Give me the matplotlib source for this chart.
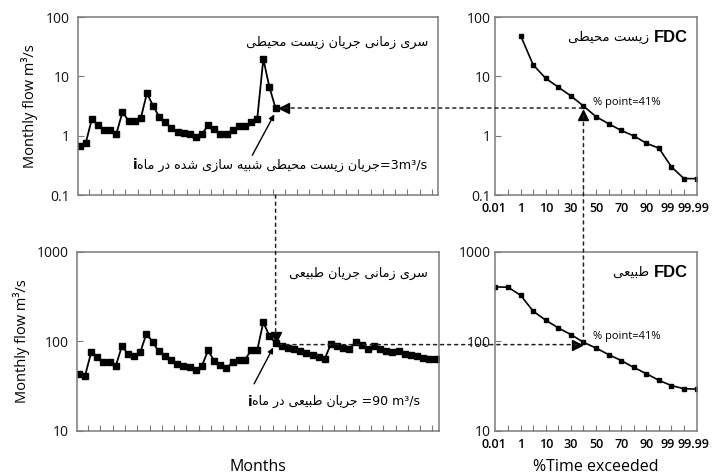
import numpy as np
import matplotlib.pyplot as plt
from matplotlib.patches import ConnectionPatch
from matplotlib.ticker import FixedLocator, NullLocator

# monthly flow series, m3/s (one value per month)
env_flow = [0.68, 0.75, 1.9, 1.53, 1.26, 1.23, 1.07, 2.5, 1.8, 1.75, 1.99, 5.2,
            3.2, 2.1, 1.68, 1.35, 1.18, 1.1, 1.08, 0.97, 1.08, 1.5, 1.3, 1.07,
            1.07, 1.26, 1.44, 1.44, 1.68, 1.9, 19.7, 6.6, 2.93]
nat_flow = [43.5, 41, 75, 66, 58, 58.6, 53, 88, 72, 68, 76, 122, 98, 77, 69,
            62, 56, 53, 52, 48, 52.5, 79, 61, 55, 50, 58.6, 62, 62, 79, 79,
            163, 114, 96, 88, 84, 81, 77, 74, 71, 67, 64,
            94, 89, 84, 82, 99, 92, 82, 88, 82, 77, 76, 77, 72, 70, 68, 65, 63, 63]

# flow duration curves, plotted on an evenly spaced exceedance scale
fdc_env_pos = list(range(0, 15))
fdc_env = [49, 15.7, 9.3, 6.6, 4.7, 3.18, 2.1, 1.6, 1.23, 1.0, 0.75, 0.62, 0.3, 0.19, 0.19]
fdc_nat_pos = list(range(-2, 15))
fdc_nat = [405, 402, 327, 217, 172, 141, 119, 97.5, 84, 71, 61, 51, 43.5, 36.6, 32, 29.5, 29.2]

exc_labels = ['0.01', '1', '10', '30', '50', '70', '90', '99', '99.99']
exc_label_pos = [-2.15, 0, 2, 4, 6, 8, 10, 11.7, 15.0]
exc_label_ha = ['center'] * 8 + ['right']

month_i = 32          # month i
env_i, nat_i = 3, 90  # flows at month i
pct_i = 5             # position of 41% on the exceedance scale

ts_env_title = "سری زمانی جریان زیست محیطی"
ts_env_note = "جریان زیست محیطی شبیه سازی شده در ماه"
fdc_env_title = "زیست محیطی"
ts_nat_title = "سری زمانی جریان طبیعی"
ts_nat_note = "جریان طبیعی در ماه"
fdc_nat_title = "طبیعی"

# matplotlib does no arabic shaping, so pick presentation forms by hand
# isolated, final, initial, medial
AR_FORMS = {
    'ا': ('\ufe8d', '\ufe8e', None, None),
    'ب': ('\ufe8f', '\ufe90', '\ufe91', '\ufe92'),
    'ت': ('\ufe95', '\ufe96', '\ufe97', '\ufe98'),
    'ج': ('\ufe9d', '\ufe9e', '\ufe9f', '\ufea0'),
    'ح': ('\ufea1', '\ufea2', '\ufea3', '\ufea4'),
    'د': ('\ufea9', '\ufeaa', None, None),
    'ر': ('\ufead', '\ufeae', None, None),
    'ز': ('\ufeaf', '\ufeb0', None, None),
    'س': ('\ufeb1', '\ufeb2', '\ufeb3', '\ufeb4'),
    'ش': ('\ufeb5', '\ufeb6', '\ufeb7', '\ufeb8'),
    'ط': ('\ufec1', '\ufec2', '\ufec3', '\ufec4'),
    'ع': ('\ufec9', '\ufeca', '\ufecb', '\ufecc'),
    'م': ('\ufee1', '\ufee2', '\ufee3', '\ufee4'),
    'ن': ('\ufee5', '\ufee6', '\ufee7', '\ufee8'),
    'ه': ('\ufee9', '\ufeea', '\ufeeb', '\ufeec'),
    'ی': ('\ufeef', '\ufef0', '\ufef3', '\ufef4'),
}


def fa(s):
    out = []
    for i, c in enumerate(s):
        if c not in AR_FORMS:
            out.append(c)
            continue
        prev = s[i - 1] if i > 0 else ''
        nxt = s[i + 1] if i + 1 < len(s) else ''
        j_prev = prev in AR_FORMS and AR_FORMS[prev][2] is not None
        j_next = nxt in AR_FORMS and AR_FORMS[c][2] is not None
        iso, fin, ini, med = AR_FORMS[c]
        if j_prev and j_next:
            out.append(med)
        elif j_prev:
            out.append(fin)
        elif j_next:
            out.append(ini)
        else:
            out.append(iso)
    return ''.join(reversed(out))


plt.rcParams['font.family'] = ['Open Sans', 'DejaVu Sans']
FA = ['DejaVu Sans']
spine_c = '#7a7a7a'
dot = (0, (2, 2.6))

fig = plt.figure(figsize=(7.13, 4.76), dpi=100)
ax1 = fig.add_axes([0.109, 0.590, 0.506, 0.374])
ax2 = fig.add_axes([0.694, 0.590, 0.283, 0.374])
ax3 = fig.add_axes([0.108, 0.095, 0.508, 0.376])
ax4 = fig.add_axes([0.694, 0.095, 0.283, 0.376])

for ax in (ax1, ax2, ax3, ax4):
    ax.set_yscale('log')
    ax.yaxis.set_minor_locator(NullLocator())
    for sp in ax.spines.values():
        sp.set_color(spine_c)
        sp.set_linewidth(1.1)
    ax.tick_params(which='both', direction='in', color=spine_c, length=4,
                   labelsize=10, labelcolor='#111')

# time series panels
months = np.arange(len(nat_flow))
for ax, y in ((ax1, env_flow), (ax3, nat_flow)):
    ax.plot(months[:len(y)], y, '-s', color='black', lw=1.3, ms=3.8)
    ax.set_xlim(-0.3, 58.6)
    ax.set_xticks(np.arange(1.5, 58, 2))
    ax.tick_params(axis='x', labelbottom=False)
    ax.tick_params(axis='y', pad=6)
    ax.set_ylabel('Monthly flow m³/s', fontsize=10.5, labelpad=5)

ax1.set_ylim(0.1, 100)
ax1.yaxis.set_major_locator(FixedLocator([0.1, 1, 10, 100]))
ax1.set_yticklabels(['0.1', '1', '10', '100'])
ax3.set_ylim(10, 1000)
ax3.yaxis.set_major_locator(FixedLocator([10, 100, 1000]))
ax3.set_yticklabels(['10', '100', '1000'])

# flow duration curves
ax2.plot(fdc_env_pos, fdc_env, '-s', color='black', lw=1.2, ms=2.2)
ax4.plot(fdc_nat_pos, fdc_nat, '-s', color='black', lw=1.2, ms=2.2)
for ax in (ax2, ax4):
    ax.set_xlim(-2.05, 14.0)
    ax.set_xticks(np.arange(-1, 14))
    ax.tick_params(axis='x', labelbottom=False)
    ax.tick_params(axis='y', pad=3)
    for lab, xp, ha in zip(exc_labels, exc_label_pos, exc_label_ha):
        ax.annotate(lab, xy=(xp, 0), xycoords=('data', 'axes fraction'),
                    xytext=(0, -5.2), textcoords='offset points', ha=ha,
                    va='top', fontsize=9, fontweight='semibold',
                    annotation_clip=False)
ax2.set_ylim(0.1, 100)
ax2.yaxis.set_major_locator(FixedLocator([0.1, 1, 10, 100]))
ax2.set_yticklabels(['0.1', '1', '10', '100'])
ax4.set_ylim(10, 1000)
ax4.yaxis.set_major_locator(FixedLocator([10, 100, 1000]))
ax4.set_yticklabels(['10', '100', '1000'])

# pointer triangles
ax1.plot(33.4, env_i * 0.98, marker='<', color='black', ms=7, clip_on=False)
ax2.plot(pct_i, 2.2, marker='^', color='black', ms=7)
ax3.plot(month_i, 112, marker='v', color='black', ms=7)
ax4.plot(4.5, nat_i * 1.02, marker='>', color='black', ms=7)

# dotted guide lines between panels
guides = [
    (ax1, (33.4, env_i * 0.98), ax2, (pct_i, env_i * 0.98)),
    (ax2, (pct_i, 2.2), ax4, (pct_i, fdc_nat[pct_i + 2])),
    (ax4, (4.5, nat_i * 1.02), ax3, (32.8, nat_i * 1.02)),
    (ax1, (month_i, 0.1), ax3, (month_i, 120)),
]
for a, pa, b, pb in guides:
    fig.add_artist(ConnectionPatch(xyA=pa, coordsA=a.transData, xyB=pb,
                                   coordsB=b.transData, color='#222',
                                   lw=1.1, linestyle=dot))

# arrows pointing at month i
arr = dict(arrowstyle='-|>', color='black', lw=1.0, mutation_scale=8,
           shrinkA=0, shrinkB=0)
ax1.annotate('', xy=(31.8, 2.3), xytext=(28.2, 0.47), arrowprops=arr)
ax3.annotate('', xy=(31.6, 85), xytext=(28.5, 33.5), arrowprops=arr)

# panel texts
ax1.text(0.972, 0.86, fa(ts_env_title), transform=ax1.transAxes, ha='right',
         va='center', fontsize=9.3, family=FA)
t1 = ax1.text(0.969, 0.169, fa(ts_env_note) + '=3m³/s', transform=ax1.transAxes,
              ha='right', va='center', fontsize=9.2, family=FA)
ax1.annotate('i', xy=(0, 0.5), xycoords=t1, ha='right', va='center',
             fontsize=10, fontweight='bold', family=FA)

ax3.text(0.97, 0.877, fa(ts_nat_title), transform=ax3.transAxes, ha='right',
         va='center', fontsize=9.3, family=FA)
t3 = ax3.text(0.948, 0.162, fa(ts_nat_note) + ' =90 m³/s', transform=ax3.transAxes,
              ha='right', va='center', fontsize=9.0, family=FA)
ax3.annotate('i', xy=(0, 0.5), xycoords=t3, ha='right', va='center',
             fontsize=10, fontweight='bold', family=FA)

for ax, ttl, ypos in ((ax2, fdc_env_title, 0.888), (ax4, fdc_nat_title, 0.883)):
    tf = ax.text(0.955, ypos, 'FDC', transform=ax.transAxes, ha='right',
                 va='center', fontsize=12, fontweight='bold',
                 family='Liberation Sans')
    ax.annotate(fa(ttl) + ' ', xy=(0, 0.5), xycoords=tf, ha='right',
                va='center', fontsize=9.5, family=FA)
    ax.text(0.485, 0.522 if ax is ax2 else 0.525, '% point=41%',
            transform=ax.transAxes, ha='left', va='center', fontsize=8)

fig.text(0.362, 0.019, 'Months', ha='center', va='center', fontsize=11.5)
fig.text(0.835, 0.019, '%Time exceeded', ha='center', va='center', fontsize=11.5)

fig.savefig('out.png', dpi=100)
